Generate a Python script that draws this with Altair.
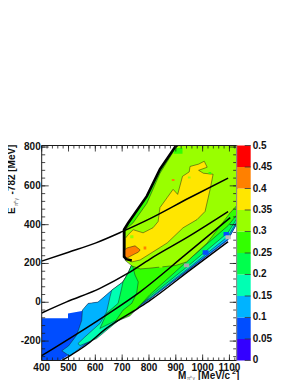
import altair as alt
import pandas as pd

W, H, BAR = 195, 215, 14
XDOM, YDOM = [400, 1127], [-300, 808]
FONT = "Liberation Sans"
INK = "#1a1a1a"

upper = [(737,197),(736,218),(707,235),(707,374),(723,410),(792,547),(841,686),(897,800),(905,808),(1127,808)]

regions = [
 ("#004dff", [(400,-82),(498,-82),(498,-58),(550,-45),(573,-6),(610,1),(661,62),(703,105),(722,150)] + upper +
   [(1127,400),(1095,320),(953,170),(804,15),(759,-28),(636,-137),(580,-206),(468,-300),(400,-300)], None),
 ("#00b3ff", [(475,-250),(500,-225),(530,-170),(549,-94),(552,-40),(573,-6),(610,1),(661,62),(703,105),(722,150)] + upper +
   [(1127,405),(1095,325),(953,175),(804,18),(759,-20),(640,-125),(580,-195),(505,-278)], INK),
 ("#00ffb3", [(535,-213),(560,-180),(617,-109),(642,-50),(655,30),(661,62),(703,105),(722,150)] + upper +
   [(1127,415),(1095,340),(953,182),(804,22),(759,-15),(673,-109),(605,-187),(543,-223)], INK),
 ("#00ff4d", [(617,-135),(642,-57),(685,-5),(698,72),(703,105),(722,150)] + upper +
   [(1127,430),(1095,360),(953,195),(804,30),(767,-15),(703,-76)], INK),
 ("#33ff00", [(673,-102),(703,-41),(736,-5),(754,47),(760,105),(748,140)] + upper +
   [(1127,450),(1095,395),(953,225),(804,40),(729,-70)], INK),
 ("#99ff00", [(712,215),(712,375),(741,410),(792,510),(841,665),(897,790),(905,808),(1127,808),(1127,498),(1103,462),
   (1017,306),(940,208),(900,190),(804,176),(767,172),(737,187)], INK),
 ("#ffe600", [(712,228),(712,330),(722,348),(741,374),(778,358),(815,384),(834,416),(841,488),(868,540),(890,582),(907,556),
   (925,649),(950,672),(953,700),(985,712),(1006,727),(1017,696),(985,680),(1003,665),(1039,660),(1028,582),(1009,468),
   (979,426),(927,384),(868,306),(767,218),(736,208)], INK),
 ("#ff8000", [(710,270),(718,280),(748,291),(767,270),(760,258),(748,250),(718,228),(710,235)], INK),
]

# small patches: x0, x1, y0, y1, colour
patches = [
 (780,790,272,288,"#ff8000"),
 (730,742,330,346,"#99ff00"),
 (838,850,178,188,"#99ff00"),
 (1022,1032,660,672,"#33ff00"),
 (945,955,638,648,"#99ff00"),
 (885,895,625,635,"#ff8000"),
 (892,925,765,795,"#33ff00"),
 (1000,1022,245,268,"#004dff"),
 (1078,1098,342,362,"#004dff"),
 (930,950,180,200,"#aaaaaa"),
 (1085,1105,325,345,"#bbbbbb"),
]

curves = [
 [(400,212),(500,258),(600,305),(700,364),(804,431),(953,540),(1095,640)],
 [(400,-55),(493,2),(617,72),(722,150),(804,223),(953,343),(1095,467)],
 [(400,-275),(629,-76),(767,54),(935,244),(1103,436)],
 [(468,-306),(580,-206),(636,-140),(759,-31),(804,10),(953,166),(1095,312)],
]
thick = [(905,808),(897,800),(841,686),(792,547),(723,410),(707,374),(707,235),(715,222),(736,215)]

palette_edges = [0,0.05,0.1,0.15,0.2,0.25,0.3,0.35,0.4,0.45,0.5]
palette_colors = ["#3300ff","#004dff","#00b3ff","#00ffb3","#00ff4d","#33ff00","#99ff00","#ffe600","#ff8000","#ff0000"]
palette_labels = [0,0.05,0.1,0.15,0.2,0.25,0.3,0.35,0.4,0.45,0.5]

x_major = [400,500,600,700,800,900,1000,1100]
x_minor = [v for v in range(400,1127,20)]
y_major = [-200,0,200,400,600,800]
y_minor = [v for v in range(-280,808,40)]

xs = alt.Scale(domain=XDOM, range=[0,W], nice=False, zero=False)
ys = alt.Scale(domain=YDOM, range=[H,0], nice=False, zero=False)
X = alt.X("x:Q", scale=xs, axis=None)
Y = alt.Y("y:Q", scale=ys, axis=None)

layers = []
for colour, pts, stroke in regions:
    df = pd.DataFrame({"x":[p[0] for p in pts]+[pts[0][0]], "y":[p[1] for p in pts]+[pts[0][1]]})
    df["i"] = range(len(df))
    kw = dict(stroke=stroke, strokeWidth=0.6, strokeOpacity=0.8) if stroke else dict(stroke=colour, strokeWidth=0)
    layers.append(alt.Chart(df).mark_line(fill=colour, clip=True, **kw).encode(X, Y, order="i:Q"))

pdf = pd.DataFrame(patches, columns=["x","x2","y","y2","c"])
layers.append(alt.Chart(pdf).mark_rect(clip=True).encode(X, x2="x2:Q", y=Y, y2="y2:Q",
    fill=alt.Fill("c:N", scale=None)))

for c in curves:
    df = pd.DataFrame(c, columns=["x","y"]); df["i"] = range(len(df))
    layers.append(alt.Chart(df).mark_line(color="black", strokeWidth=1.5, clip=True, interpolate="monotone").encode(X, Y, order="i:Q"))
df = pd.DataFrame(thick, columns=["x","y"]); df["i"] = range(len(df))
layers.append(alt.Chart(df).mark_line(color="black", strokeWidth=2.6, clip=True).encode(X, Y, order="i:Q"))

def xticks(vals, a, b):
    return alt.Chart(pd.DataFrame({"x":vals})).mark_rule(color=INK, strokeWidth=0.8).encode(X, y=alt.value(a), y2=alt.value(b))
def yticks(vals, a, b):
    return alt.Chart(pd.DataFrame({"y":vals})).mark_rule(color=INK, strokeWidth=0.8).encode(Y, x=alt.value(a), x2=alt.value(b))

layers += [xticks(x_major,H,H-6), xticks(x_minor,H,H-3), xticks(x_major,0,6), xticks(x_minor,0,3),
           yticks(y_major,0,7), yticks(y_minor,0,3.5), yticks(y_major,W,W-7), yticks(y_minor,W,W-3.5)]

def frame(**kw):
    return alt.Chart(pd.DataFrame({"a":[0]})).mark_rule(color=INK, strokeWidth=1).encode(**kw)
layers += [frame(x=alt.value(0),x2=alt.value(W),y=alt.value(0)),
           frame(x=alt.value(0),x2=alt.value(W),y=alt.value(H)),
           frame(x=alt.value(0),y=alt.value(0),y2=alt.value(H)),
           frame(x=alt.value(W),y=alt.value(0),y2=alt.value(H))]

# tick labels
lab = dict(font=FONT, fontWeight="bold", fontSize=10, color="#111111")
layers.append(alt.Chart(pd.DataFrame({"x":x_major})).mark_text(baseline="top", align="center", **lab).encode(
    X, y=alt.value(H+2.5), text="x:N"))
layers.append(alt.Chart(pd.DataFrame({"y":y_major})).mark_text(baseline="middle", align="right", **lab).encode(
    Y, x=alt.value(-1), text="y:N"))

def txt(s, x, y, angle=0, size=10, color="#111111", weight="bold", align="left"):
    return alt.Chart(pd.DataFrame({"t":[s]})).mark_text(font=FONT, fontWeight=weight, fontSize=size, color=color,
        angle=angle, align=align, baseline="alphabetic").encode(x=alt.value(x), y=alt.value(y), text="t:N")

ox, oy = 41.7, 145.5
layers += [
    txt("M", 178-ox, 379-oy),
    txt("π⁰γ", 187-ox, 380-oy, size=5, color="#666666", weight="normal"),
    txt("[MeV/c", 198-ox, 379-oy),
    txt("2", 232-ox, 374-oy, size=7),
    txt("]", 236-ox, 379-oy),
    txt("E", 15-ox, 214-oy, angle=270),
    txt("π⁰γ", 18.5-ox, 206-oy, angle=270, size=5, color="#666666", weight="normal"),
    txt("-782 [MeV]", 15-ox, 194.5-oy, angle=270),
]
main = alt.layer(*layers)

# colour bar
bs = alt.Scale(domain=[0,0.5], range=[H,0], nice=False, zero=False)
bx = alt.Scale(domain=[0,1], range=[W,W+BAR], nice=False, zero=False)
bdf = pd.DataFrame({"a":[0]*10, "b":[1]*10, "lo":palette_edges[:-1], "hi":palette_edges[1:], "c":palette_colors})
bar = alt.Chart(bdf).mark_rect().encode(
    x=alt.X("a:Q", scale=bx, axis=None), x2="b:Q",
    y=alt.Y("lo:Q", scale=bs, axis=None), y2="hi:Q",
    fill=alt.Fill("c:N", scale=None))
bticks = alt.Chart(pd.DataFrame({"v":palette_labels})).mark_rule(color="#333333", strokeWidth=0.8).encode(
    y=alt.Y("v:Q", scale=bs, axis=None), x=alt.value(W+BAR-6), x2=alt.value(W+BAR))
blab = alt.Chart(pd.DataFrame({"v":palette_labels})).mark_text(align="left", baseline="middle", **lab).encode(
    y=alt.Y("v:Q", scale=bs, axis=None), x=alt.value(W+BAR+2), text="v:N")
bedge = alt.Chart(pd.DataFrame({"a":[0]})).mark_rule(color="#999999", strokeWidth=1).encode(
    x=alt.value(W), y=alt.value(0), y2=alt.value(H))
cbar = alt.layer(bar, bticks, blab, bedge)

chart = alt.layer(main, cbar).resolve_scale(x="independent", y="independent").properties(
    width=W+BAR, height=H,
    autosize=alt.AutoSizeParams(type="none"),
    padding={"left":33.7,"top":137.5,"right":41,"bottom":19.5},
    background="white",
).configure_view(stroke=None)

chart.save("out.html", embed_options={"renderer":"svg","actions":False})
